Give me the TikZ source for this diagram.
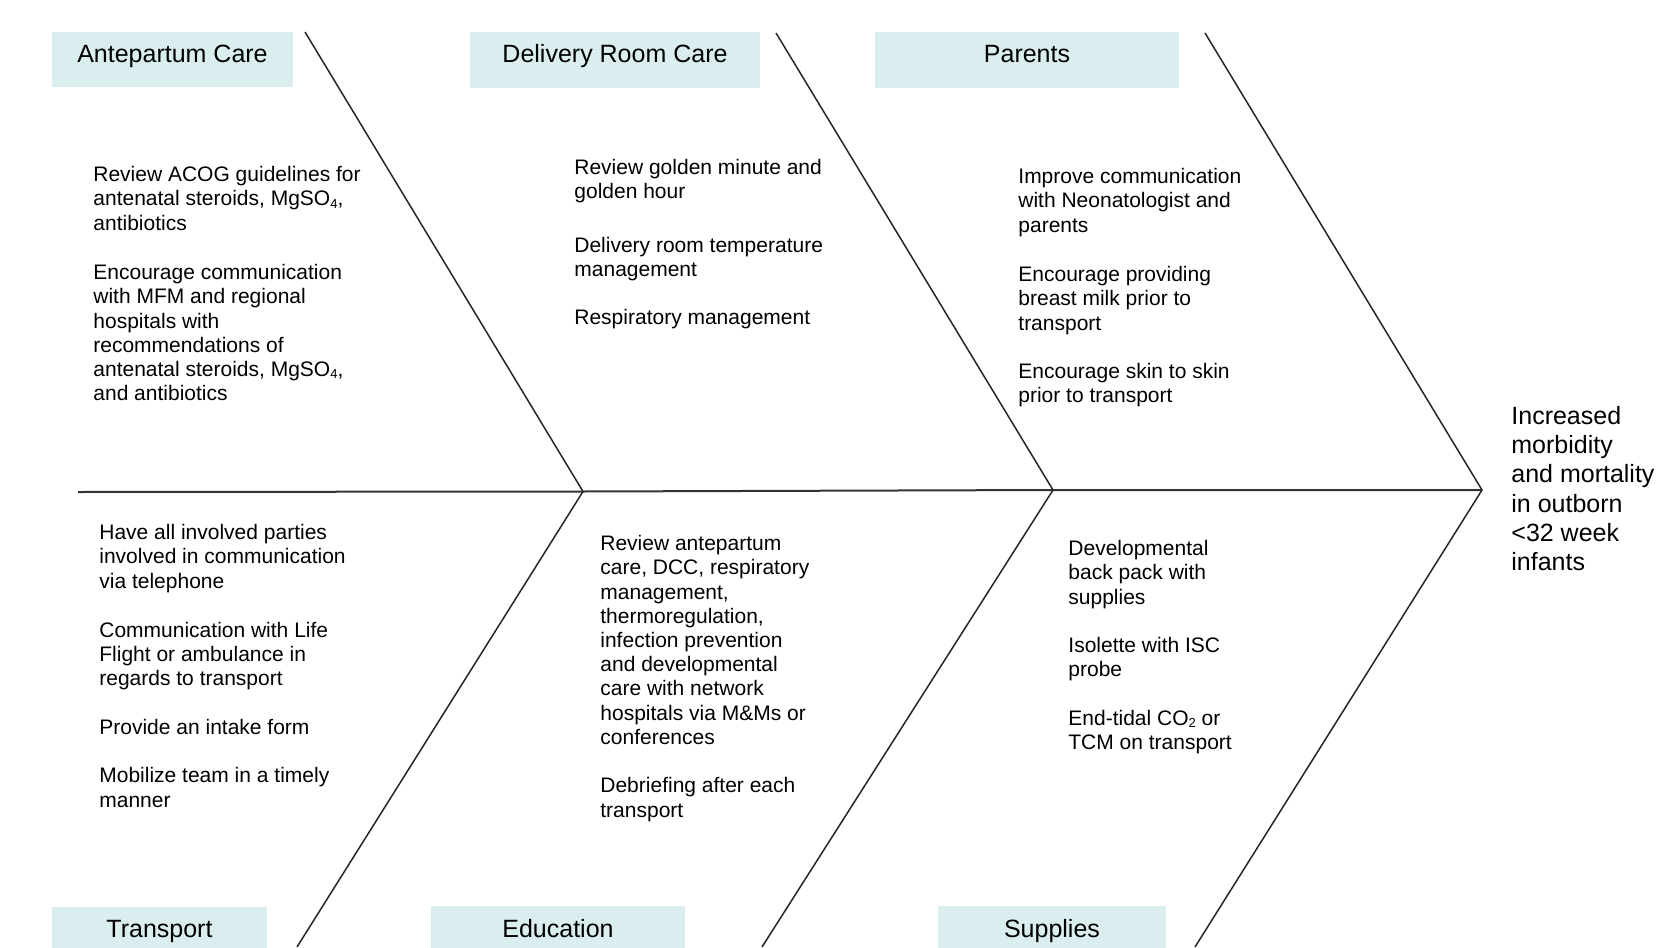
\documentclass[tikz,border=0pt]{standalone}
\usepackage{fontspec}
\setmainfont{Liberation Sans}
\definecolor{hdr}{RGB}{218,238,240}
\newcommand{\smallsub}[1]{\raisebox{-0.2ex}{\fontsize{6.5pt}{6.5pt}\selectfont #1}}
\begin{document}
\begin{tikzpicture}[x=0.5pt,y=-0.5pt,
  bone/.style={line width=0.75pt,draw=black!85},
  spine/.style={line width=1pt,draw=black!80},
  hdrbox/.style={fill=hdr,draw=none,inner sep=0pt,outer sep=0pt,anchor=north west},
  hdrtext/.style={font=\fontsize{12.5pt}{15pt}\selectfont,text height=9.4pt,text depth=3.1pt,inner sep=0pt},
  itemtext/.style={font=\fontsize{10.5pt}{12.1pt}\selectfont,align=left,anchor=north west,inner sep=0pt},
  outcometext/.style={font=\fontsize{12.5pt}{14.6pt}\selectfont,align=left,anchor=north west,inner sep=0pt}]
\clip (0,0) rectangle (1669,947);
\fill[white] (0,0) rectangle (1669,947);

% header boxes
\node[hdrbox,minimum width=120.5pt,minimum height=27.5pt] (anteB) at (52,32) {};
\node[hdrbox,minimum width=145pt,minimum height=28pt] (delB) at (470,32) {};
\node[hdrbox,minimum width=152pt,minimum height=28pt] (parB) at (875,32) {};
\node[hdrbox,minimum width=107.5pt,minimum height=30pt] (traB) at (52,907) {};
\node[hdrbox,minimum width=127pt,minimum height=30pt] (eduB) at (431,906) {};
\node[hdrbox,minimum width=114pt,minimum height=30pt] (supB) at (938,906) {};

\node[hdrtext] (anteT) at (172.5,56.7) {Antepartum Care};
\node[hdrtext] (delT) at (615,56.7) {Delivery Room Care};
\node[hdrtext] (parT) at (1027,56.7) {Parents};
\node[hdrtext] (traT) at (159.5,930.7) {Transport};
\node[hdrtext] (eduT) at (558,930.7) {Education};
\node[hdrtext] (supT) at (1052,930.7) {Supplies};

% skeleton
\coordinate (s0) at (78,492);
\coordinate (v1) at (583,491.5);
\coordinate (v2) at (1053,490);
\coordinate (v3) at (1482,490);
\coordinate (u1) at (305,32);
\coordinate (u2) at (776,33);
\coordinate (u3) at (1205,33);
\coordinate (l1) at (297,947);
\coordinate (l2) at (762,947);
\coordinate (l3) at (1195,947);

\draw[spine] (s0) -- (v1) -- (v2) -- (v3);
\draw[bone] (u1) -- (v1) -- (l1);
\draw[bone] (u2) -- (v2) -- (l2);
\draw[bone] (u3) -- (v3) -- (l3);

% antepartum items
\node[itemtext] (a1) at (93,166) {Review ACOG guidelines for\\antenatal steroids, MgSO\smallsub{4},\\antibiotics};
\node[itemtext] (a2) at (93,264) {Encourage communication\\with MFM and regional\\hospitals with\\recommendations of\\antenatal steroids, MgSO\smallsub{4},\\and antibiotics};

% delivery room items
\node[itemtext] (d1) at (574,158.5) {Review golden minute and\\golden hour};
\node[itemtext] (d2) at (574,237) {Delivery room temperature\\management};
\node[itemtext] (d3) at (574,308.5) {Respiratory management};

% parents items
\node[itemtext] (p1) at (1018,168) {Improve communication\\with Neonatologist and\\parents};
\node[itemtext] (p2) at (1018,266) {Encourage providing\\breast milk prior to\\transport};
\node[itemtext] (p3) at (1018,362.5) {Encourage skin to skin\\prior to transport};

% transport items
\node[itemtext] (t1) at (99,524) {Have all involved parties\\involved in communication\\via telephone};
\node[itemtext] (t2) at (99,621.5) {Communication with Life\\Flight or ambulance in\\regards to transport};
\node[itemtext] (t3) at (99,719) {Provide an intake form};
\node[itemtext] (t4) at (99,767.3) {Mobilize team in a timely\\manner};

% education items
\node[itemtext] (e1) at (600,535) {Review antepartum\\care, DCC, respiratory\\management,\\thermoregulation,\\infection prevention\\and developmental\\care with network\\hospitals via M\&Ms or\\conferences};
\node[itemtext] (e2) at (600,777.3) {Debriefing after each\\transport};

% supplies items
\node[itemtext] (sp1) at (1068,540) {Developmental\\back pack with\\supplies};
\node[itemtext] (sp2) at (1068,636.7) {Isolette with ISC\\probe};
\node[itemtext] (sp3) at (1068,710) {End-tidal CO\smallsub{2} or\\TCM on transport};

% outcome
\node[outcometext] (out) at (1511,406) {Increased\\morbidity\\and mortality\\in outborn\\<32 week\\infants};
\end{tikzpicture}
\end{document}
